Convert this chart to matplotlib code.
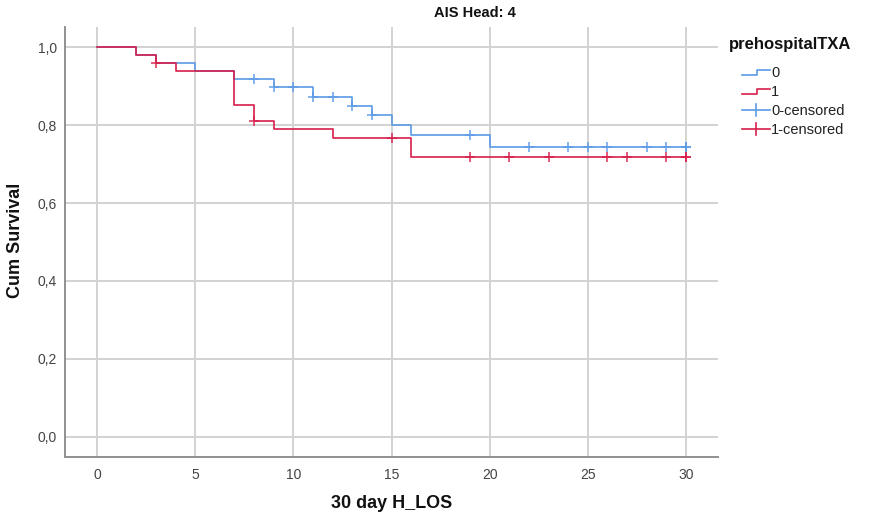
import matplotlib
matplotlib.use("Agg")
import matplotlib.pyplot as plt
from matplotlib.lines import Line2D

# ---- data ----
groups = ["0", "1"]
# Kaplan-Meier step curves (time, cumulative survival)
time_0 = [0, 2, 3, 5, 7, 9, 11, 13, 14, 15, 16, 20, 30]
surv_0 = [1.000, 0.980, 0.960, 0.938, 0.918, 0.897, 0.873, 0.850, 0.827, 0.801, 0.774, 0.745, 0.745]
time_1 = [0, 2, 3, 4, 7, 8, 9, 12, 16, 30]
surv_1 = [1.000, 0.980, 0.960, 0.938, 0.852, 0.811, 0.789, 0.767, 0.719, 0.719]
# censored observations
cens_t_0 = [8, 9, 10, 11, 12, 13, 14, 19, 22, 24, 25, 26, 28, 29, 30, 30]
cens_s_0 = [0.918, 0.897, 0.897, 0.873, 0.873, 0.850, 0.827, 0.774, 0.745, 0.745, 0.745, 0.745, 0.745, 0.745, 0.745, 0.745]
cens_t_1 = [3, 8, 15, 19, 21, 23, 26, 27, 29, 30, 30]
cens_s_1 = [0.960, 0.811, 0.767, 0.719, 0.719, 0.719, 0.719, 0.719, 0.719, 0.719, 0.719]

x_ticks = [0, 5, 10, 15, 20, 25, 30]
y_ticks = [0.0, 0.2, 0.4, 0.6, 0.8, 1.0]
y_tick_labels = ["0,0", "0,2", "0,4", "0,6", "0,8", "1,0"]
legend_labels = ["0", "1", "0-censored", "1-censored"]

BLUE = "#5b9be6"
RED = "#d81e4b"
W, H = 869, 523

plt.rcParams['font.family'] = ['Liberation Sans', 'DejaVu Sans']
fig = plt.figure(figsize=(W / 100, H / 100), dpi=100)
ax = fig.add_axes([65 / W, 1 - 457 / H, (718 - 65) / W, (457 - 27) / H])

ax.set_xlim(-1.63, 31.63)
ax.set_ylim(-0.052, 1.052)
ax.set_xticks(x_ticks)
ax.set_yticks(y_ticks)
ax.set_yticklabels(y_tick_labels)
ax.grid(True, color="#d2d2d2", linewidth=1.4)
ax.set_axisbelow(True)
ax.tick_params(length=0, labelsize=10, colors="#444444")
ax.tick_params(axis='x', pad=8)
ax.tick_params(axis='y', pad=6)
for s in ["top", "right"]:
    ax.spines[s].set_visible(False)
for s in ["left", "bottom"]:
    ax.spines[s].set_color("#909090")
    ax.spines[s].set_linewidth(1.4)

ax.step(time_0, surv_0, where="post", color=BLUE, lw=1.2, zorder=3)
ax.step(time_1, surv_1, where="post", color=RED, lw=1.2, zorder=4)
ax.plot(cens_t_0, cens_s_0, ls="none", marker="+", ms=7, mew=1.3, color=BLUE, alpha=0.8, zorder=5)
ax.plot(cens_t_1, cens_s_1, ls="none", marker="+", ms=7, mew=1.3, color=RED, alpha=0.8, zorder=6)

fig.text(392 / W, 1 - 503 / H, "30 day H_LOS", fontsize=13, fontweight="bold",
         ha="center", va="center", color="#111111")
fig.text(15.5 / W, 1 - 240 / H, "Cum Survival", fontsize=13, fontweight="bold",
         ha="center", va="center", rotation=90, color="#111111")

fig.text(474.7 / W, 1 - 13 / H, "AIS Head: 4", fontsize=10.5, fontweight="bold",
         ha="center", va="center", color="#111111")

# ---- legend (drawn manually, SPSS style) ----
def fx(px):
    return px / W

def fy(py):
    return 1 - py / H

fig.text(fx(729), fy(44), "prehospitalTXA", fontsize=12, fontweight="bold",
         ha="left", va="center", color="#111111")
rows = [72, 91.5, 110, 129]
cols = [BLUE, RED, BLUE, RED]
for i, (lab, yy, c) in enumerate(zip(legend_labels, rows, cols)):
    if i < 2:
        xs = [fx(742), fx(757), fx(757), fx(770)]
        ys = [fy(yy + 2.5), fy(yy + 2.5), fy(yy - 2.5), fy(yy - 2.5)]
        fig.add_artist(Line2D(xs, ys, color=c, lw=1.2, transform=fig.transFigure))
    else:
        fig.add_artist(Line2D([fx(742), fx(770)], [fy(yy), fy(yy)], color=c, lw=1.2,
                              transform=fig.transFigure))
        fig.add_artist(Line2D([fx(756), fx(756)], [fy(yy - 6), fy(yy + 6)], color=c, lw=1.2,
                              transform=fig.transFigure))
    fig.text(fx(771), fy(yy + 1), lab, fontsize=10.5, ha="left", va="center", color="#222222")

fig.savefig("out.png", dpi=100)
